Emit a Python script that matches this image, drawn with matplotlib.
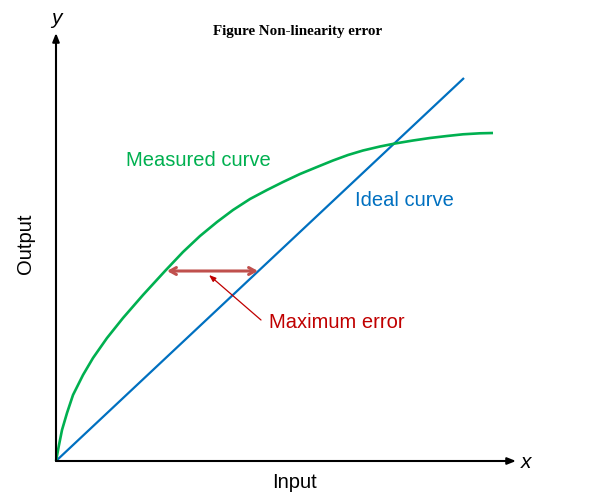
import matplotlib
matplotlib.use("Agg")
import matplotlib.pyplot as plt

# Data (in drawing units: input, output)
ideal_x = [0, 408]
ideal_y = [0, 383]
measured_x = [0, 3, 6, 11, 17, 27, 37, 51, 67, 87, 109, 127, 144, 161, 177, 194, 211, 227, 244,
              261, 277, 292, 307, 324, 339, 357, 374, 391, 407, 424, 437]
measured_y = [0, 16, 31, 48, 66, 86, 103, 123, 143, 166, 190, 209, 225, 239, 251, 262, 271, 279, 287,
              294, 300.5, 306, 310.5, 314.5, 317.5, 320.5, 323, 325, 326.7, 327.7, 328]
error_y = 190
error_x = [111, 202]

title = "Figure Non-linearity error"
x_label = "Input"
y_label = "Output"

GREEN = "#00B050"
BLUE = "#0070C0"
RED_ARROW = "#C0504D"
RED_TEXT = "#C00000"

fig = plt.figure(figsize=(5.91, 5.0), dpi=100)
ax = fig.add_axes([0, 0, 1, 1])
ax.set_xlim(-56, 535)
ax.set_ylim(-39, 461)
ax.axis("off")

sans = "Liberation Sans"

# axes arrows
ax.annotate("", xy=(460, 0), xytext=(0, 0),
            arrowprops=dict(arrowstyle="-|>,head_length=0.5,head_width=0.2", color="black", lw=1.5,
                            shrinkA=0, shrinkB=0))
ax.annotate("", xy=(0, 428), xytext=(0, 0),
            arrowprops=dict(arrowstyle="-|>,head_length=0.5,head_width=0.2", color="black", lw=1.5,
                            shrinkA=0, shrinkB=0))
ax.text(470, -2, "x", fontsize=15, style="italic", family=sans, ha="center", va="center")
ax.text(0, 442, "y", fontsize=15, style="italic", family=sans, ha="center", va="center")

# curves
ax.plot(ideal_x, ideal_y, color=BLUE, lw=1.6, solid_capstyle="butt")
ax.plot(measured_x, measured_y, color=GREEN, lw=1.9, solid_capstyle="butt", solid_joinstyle="round")

# error arrow
ax.annotate("", xy=(error_x[0], error_y), xytext=(error_x[1], error_y),
            arrowprops=dict(arrowstyle="<->,head_length=0.45,head_width=0.25", color=RED_ARROW, lw=2.2,
                            shrinkA=0, shrinkB=0))
ax.annotate("", xy=(153, 186), xytext=(205, 141),
            arrowprops=dict(arrowstyle="-|>,head_length=0.4,head_width=0.15", color=RED_TEXT, lw=0.9,
                            shrinkA=0, shrinkB=0))
ax.text(213, 139, "Maximum error", fontsize=14.5, family=sans, color=RED_TEXT, ha="left", va="center")

ax.text(70, 301, "Measured curve", fontsize=14.5, family=sans, color=GREEN, ha="left", va="center")
ax.text(299, 261, "Ideal curve", fontsize=14.5, family=sans, color=BLUE, ha="left", va="center")

ax.text(238, -22, x_label, fontsize=14.5, family=sans, ha="center", va="center")
ax.text(-31, 217, y_label, fontsize=14.5, family=sans, ha="center", va="center", rotation=90)

ax.text(242, 429, title, fontsize=10.8, family="Liberation Serif", weight="bold", ha="center", va="center")

fig.savefig("out.png", dpi=100)
